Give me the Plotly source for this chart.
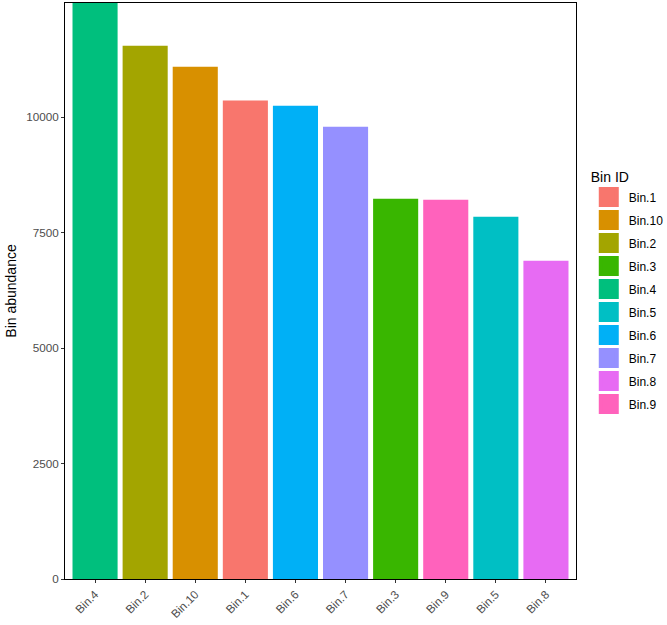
import plotly.graph_objects as go

bins = ["Bin.1", "Bin.10", "Bin.2", "Bin.3", "Bin.4", "Bin.5", "Bin.6", "Bin.7", "Bin.8", "Bin.9"]
abundance = [10362, 11092, 11547, 8232, 12472, 7842, 10247, 9792, 6889, 8211]
colors = ["#F8766D", "#D89000", "#A3A500", "#39B600", "#00BF7D",
          "#00BFC4", "#00B0F6", "#9590FF", "#E76BF3", "#FF62BC"]
y_ticks = [0, 2500, 5000, 7500, 10000]

order = [b for _, b in sorted(zip(abundance, bins), reverse=True)]

fig = go.Figure()
for b, v, c in zip(bins, abundance, colors):
    fig.add_trace(go.Bar(x=[b], y=[v], name=b, marker=dict(color=c, line=dict(width=0)),
                         width=0.9, legendgroup=b, showlegend=False))
    # legend key (larger square like ggplot's fill keys)
    fig.add_trace(go.Scatter(x=[None], y=[None], mode="markers", name=b, legendgroup=b,
                             marker=dict(symbol="square", size=16, color=c,
                                         line=dict(color=c, width=4))))

font = "Liberation Sans, Arial, sans-serif"
fig.update_layout(
    width=667, height=625,
    margin=dict(l=65, r=91, t=3, b=46, autoexpand=False),
    plot_bgcolor="white", paper_bgcolor="white",
    barmode="overlay",
    font=dict(family=font, color="black"),
    showlegend=True,
    legend=dict(
        title=dict(text="Bin ID", font=dict(size=14, family=font, color="black")),
        font=dict(size=12, family=font, color="black"),
        x=1.025, xanchor="left", y=0.72, yanchor="top",
        tracegroupgap=4, itemsizing="trace",
        bgcolor="rgba(0,0,0,0)",
    ),
    xaxis=dict(
        categoryorder="array", categoryarray=order,
        range=[-0.6, 9.6],
        showline=True, mirror=True, linecolor="black", linewidth=1,
        ticks="outside", ticklen=3, tickcolor="#333333",
        tickangle=-45, tickfont=dict(size=11.7, color="#4D4D4D", family=font),
        showgrid=False, zeroline=False,
    ),
    yaxis=dict(
        range=[0, max(abundance)],
        tickvals=y_ticks, ticktext=[str(t) for t in y_ticks],
        showline=True, mirror=True, linecolor="black", linewidth=1,
        ticks="outside", ticklen=3, tickcolor="#333333",
        tickfont=dict(size=11.7, color="#4D4D4D", family=font),
        showgrid=False, zeroline=False,
        title=dict(text="Bin abundance", font=dict(size=14, family=font, color="black"), standoff=6),
    ),
)

fig.write_html("out.html")
